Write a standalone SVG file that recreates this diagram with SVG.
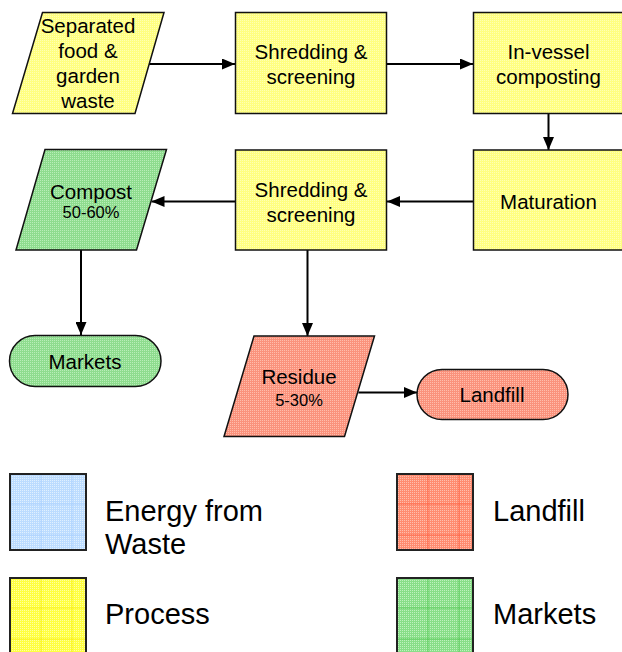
<svg xmlns="http://www.w3.org/2000/svg" width="622" height="652" viewBox="0 0 622 652">
<defs>
<pattern id="pY" width="2" height="2" patternUnits="userSpaceOnUse"><rect width="2" height="2" fill="#FFFF80"/><rect x="0" y="0" width="1" height="1" fill="#FFFFB4"/></pattern>
<pattern id="pG" width="2" height="2" patternUnits="userSpaceOnUse"><rect width="2" height="2" fill="#8EDC8E"/><rect x="0" y="0" width="1" height="1" fill="#B8EEB8"/></pattern>
<pattern id="pR" width="2" height="2" patternUnits="userSpaceOnUse"><rect width="2" height="2" fill="#FA927C"/><rect x="0" y="0" width="1" height="1" fill="#FFBCAC"/></pattern>
<pattern id="lB" width="2" height="2" patternUnits="userSpaceOnUse"><rect width="2" height="2" fill="#BCDCFF"/><rect x="0" y="0" width="1" height="1" fill="#E0F0FF"/></pattern>
<pattern id="lY" width="2" height="2" patternUnits="userSpaceOnUse"><rect width="2" height="2" fill="#FFFF40"/><rect x="0" y="0" width="1" height="1" fill="#FFFFA0"/></pattern>
<pattern id="lR" width="2" height="2" patternUnits="userSpaceOnUse"><rect width="2" height="2" fill="#FF8C70"/><rect x="0" y="0" width="1" height="1" fill="#FFBEAE"/></pattern>
<pattern id="lG" width="2" height="2" patternUnits="userSpaceOnUse"><rect width="2" height="2" fill="#88DE88"/><rect x="0" y="0" width="1" height="1" fill="#BEF2BE"/></pattern>
<marker id="ah" viewBox="0 0 13 11" refX="13" refY="5.5" markerWidth="13" markerHeight="11" markerUnits="userSpaceOnUse" orient="auto"><path d="M0,0 L13,5.5 L0,11 Z" fill="#000"/></marker>
</defs>
<style>
.n{stroke:#111;stroke-width:1.5}
.t{font-family:"Liberation Sans",Arial,sans-serif;font-size:20.5px;fill:#000;text-anchor:middle}
.s{font-family:"Liberation Sans",Arial,sans-serif;font-size:16.5px;fill:#000;text-anchor:middle}
.c{fill:none;stroke:#000;stroke-width:2;marker-end:url(#ah)}
.lb{stroke:#222;stroke-width:2}
.g{stroke-width:1;stroke-opacity:0.6}
.lt{font-family:"Liberation Sans",Arial,sans-serif;font-size:29px;fill:#000}
</style>
<g id="connectors">
<line class="c" x1="149" y1="64" x2="235" y2="64"/>
<line class="c" x1="387" y1="64" x2="473" y2="64"/>
<line class="c" x1="548.5" y1="113" x2="548.5" y2="150"/>
<line class="c" x1="473" y1="201.5" x2="387" y2="201.5"/>
<line class="c" x1="235" y1="201.5" x2="151.5" y2="201.5"/>
<line class="c" x1="81" y1="250" x2="81" y2="335"/>
<line class="c" x1="307.5" y1="250" x2="307.5" y2="336"/>
<line class="c" x1="358.4" y1="392.5" x2="417" y2="392.5"/>
</g>
<g id="separated">
<polygon class="n" fill="url(#pY)" points="42.5,12.5 164,12.5 135,113.5 12.5,113.5"/>
<text class="t" x="88" y="33">Separated</text>
<text class="t" x="88" y="58">food &amp;</text>
<text class="t" x="88" y="83">garden</text>
<text class="t" x="88" y="108">waste</text>
</g>
<g id="shred1">
<rect class="n" fill="url(#pY)" x="235.5" y="12.5" width="151" height="101"/>
<text class="t" x="311" y="59">Shredding &amp;</text>
<text class="t" x="311" y="84">screening</text>
</g>
<g id="invessel">
<rect class="n" fill="url(#pY)" x="473.5" y="12.5" width="151" height="101"/>
<text class="t" x="548.5" y="59">In-vessel</text>
<text class="t" x="548.5" y="84">composting</text>
</g>
<g id="maturation">
<rect class="n" fill="url(#pY)" x="473.5" y="150" width="151" height="100"/>
<text class="t" x="548.5" y="208.5">Maturation</text>
</g>
<g id="shred2">
<rect class="n" fill="url(#pY)" x="235.5" y="150" width="151" height="100"/>
<text class="t" x="311" y="197">Shredding &amp;</text>
<text class="t" x="311" y="222">screening</text>
</g>
<g id="compost">
<polygon class="n" fill="url(#pG)" points="45,149.5 166.5,149.5 136.5,250 16,250"/>
<text class="t" x="91" y="198.5">Compost</text>
<text class="s" x="91" y="218">50-60%</text>
</g>
<g id="markets">
<rect class="n" fill="url(#pG)" x="9.5" y="335.5" width="151.5" height="51" rx="25.5"/>
<text class="t" x="85" y="369">Markets</text>
</g>
<g id="residue">
<polygon class="n" fill="url(#pR)" points="254,336 374.5,336 344.5,436.5 224,436.5"/>
<text class="t" x="299" y="384">Residue</text>
<text class="s" x="299" y="406">5-30%</text>
</g>
<g id="landfill">
<rect class="n" fill="url(#pR)" x="417" y="369.5" width="151" height="50" rx="25"/>
<text class="t" x="492" y="402">Landfill</text>
</g>
<g id="legend">
<rect fill="url(#lB)" x="10" y="474" width="76" height="76"/>
<path class="g" d="M41,474V550M72,474V550M10,504H86M10,535H86" stroke="#A0CCFF"/>
<rect class="lb" fill="none" x="10" y="474" width="76" height="76"/>
<text class="lt" x="105" y="520.5">Energy from</text>
<text class="lt" x="105" y="554">Waste</text>
<rect fill="url(#lY)" x="10" y="578" width="76" height="76"/>
<path class="g" d="M41,578V654M72,578V654M10,608H86M10,639H86" stroke="#F2E600"/>
<rect class="lb" fill="none" x="10" y="578" width="76" height="76"/>
<text class="lt" x="105" y="624">Process</text>
<rect fill="url(#lR)" x="397" y="474" width="76" height="76"/>
<path class="g" d="M428,474V550M459,474V550M397,504H473M397,535H473" stroke="#FF5030"/>
<rect class="lb" fill="none" x="397" y="474" width="76" height="76"/>
<text class="lt" x="493" y="520.5">Landfill</text>
<rect fill="url(#lG)" x="397" y="578" width="76" height="76"/>
<path class="g" d="M428,578V654M459,578V654M397,608H473M397,639H473" stroke="#40C040"/>
<rect class="lb" fill="none" x="397" y="578" width="76" height="76"/>
<text class="lt" x="493" y="624">Markets</text>
</g>
</svg>
